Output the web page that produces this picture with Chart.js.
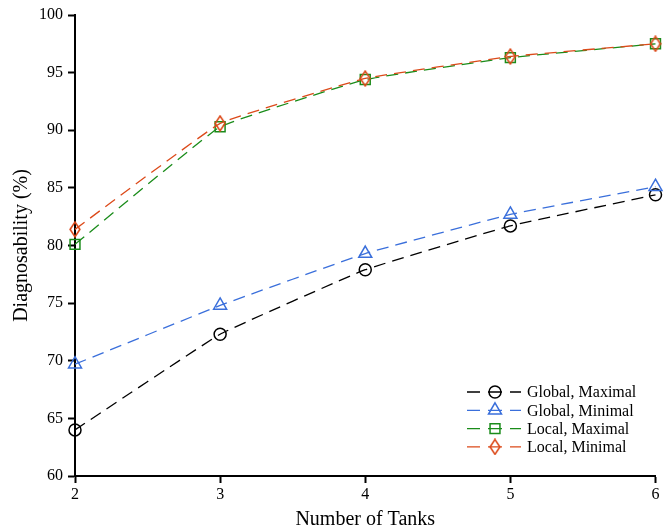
<!DOCTYPE html>
<html>
<head>
<meta charset="utf-8">
<script src="https://cdn.jsdelivr.net/npm/chart.js@4/dist/chart.umd.min.js"></script>
<style>
html,body{margin:0;padding:0;background:#fff;}
#wrap{width:666px;height:532px;}
</style>
</head>
<body>
<div id="wrap"><canvas id="c" width="666" height="532"></canvas></div>
<script>
const tanks = [2, 3, 4, 5, 6];
const globalMaximal = [64.0, 72.3, 77.9, 81.7, 84.4];
const globalMinimal = [69.7, 74.8, 79.3, 82.7, 85.1];
const localMaximal  = [80.1, 90.3, 94.4, 96.3, 97.5];
const localMinimal  = [81.4, 90.6, 94.5, 96.4, 97.5];
const seriesNames = ['Global, Maximal', 'Global, Minimal', 'Local, Maximal', 'Local, Minimal'];
const yTicks = [60, 65, 70, 75, 80, 85, 90, 95, 100];

const FONT = '"Liberation Serif", "Times New Roman", serif';
const colors = ['#000000', '#3a6fdb', '#1a8c1a', '#dc4a1a'];

function makeDiamond(color, w, h, lw) {
  const c = document.createElement('canvas');
  c.width = w; c.height = h;
  const g = c.getContext('2d');
  g.strokeStyle = color; g.lineWidth = lw;
  const p = lw / 2 + 0.3;
  g.beginPath();
  g.moveTo(w / 2, p); g.lineTo(w - p, h / 2); g.lineTo(w / 2, h - p); g.lineTo(p, h / 2); g.closePath();
  g.stroke();
  return c;
}
const diamond = makeDiamond(colors[3], 12, 17, 1.6);

const styles = [
  {pointStyle: 'circle', radius: 6},
  {pointStyle: 'triangle', radius: 7.5},
  {pointStyle: 'rect', radius: 7},
  {pointStyle: diamond, radius: 9}
];
const values = [globalMaximal, globalMinimal, localMaximal, localMinimal];

const datasets = values.map((vals, i) => ({
  label: seriesNames[i],
  data: tanks.map((t, j) => ({x: t, y: vals[j]})),
  borderColor: colors[i],
  backgroundColor: 'rgba(0,0,0,0)',
  borderWidth: 1.3,
  borderDash: [12, 7],
  tension: 0.08,
  pointStyle: styles[i].pointStyle,
  pointRadius: styles[i].radius,
  pointHoverRadius: styles[i].radius,
  pointBorderColor: colors[i],
  pointBackgroundColor: 'rgba(0,0,0,0)',
  pointBorderWidth: 1.5,
  clip: false,
  order: 3 - i
}));

const legendPlugin = {
  id: 'customLegend',
  afterDraw(chart) {
    const ctx = chart.ctx;
    const x0 = 467, y0 = 392, dy = 18.3;
    ctx.save();
    chart.data.datasets.forEach((ds, i) => {
      const y = y0 + i * dy;
      ctx.strokeStyle = ds.borderColor;
      ctx.lineWidth = 1.3;
      ctx.setLineDash([]);
      ctx.beginPath();
      ctx.moveTo(x0, y); ctx.lineTo(x0 + 13, y);
      ctx.moveTo(x0 + 21, y); ctx.lineTo(x0 + 35, y);
      ctx.moveTo(x0 + 43, y); ctx.lineTo(x0 + 54, y);
      ctx.stroke();
      const mx = x0 + 28;
      ctx.fillStyle = 'rgba(0,0,0,0)';
      ctx.strokeStyle = ds.borderColor;
      ctx.lineWidth = ds.pointBorderWidth;
      if (Chart.helpers && Chart.helpers.drawPoint) {
        Chart.helpers.drawPoint(ctx, {
          pointStyle: ds.pointStyle,
          radius: ds.pointRadius,
          borderWidth: ds.pointBorderWidth,
          rotation: 0
        }, mx, y);
      }
      ctx.fillStyle = '#000';
      ctx.font = '16px ' + FONT;
      ctx.textBaseline = 'middle';
      ctx.textAlign = 'left';
      ctx.fillText(ds.label, x0 + 60, y + 1);
    });
    ctx.restore();
  }
};

new Chart(document.getElementById('c'), {
  type: 'line',
  data: {datasets},
  options: {
    responsive: false,
    animation: false,
    events: [],
    layout: {padding: {top: 15, right: 6, left: 0, bottom: 0}},
    plugins: {legend: {display: false}, tooltip: {enabled: false}},
    scales: {
      x: {
        type: 'linear',
        min: tanks[0], max: tanks[tanks.length - 1],
        afterFit(s) { s.height = 56; },
        afterBuildTicks(s) { s.ticks = tanks.map(v => ({value: v})); },
        border: {display: true, color: '#000', width: 2},
        grid: {drawOnChartArea: false, drawTicks: true, tickLength: 7, tickWidth: 2, tickColor: '#000'},
        ticks: {color: '#000', font: {family: FONT, size: 16}, padding: 2, maxRotation: 0},
        title: {display: true, text: 'Number of Tanks', color: '#000', font: {family: FONT, size: 20}, padding: {top: 0, bottom: 0}}
      },
      y: {
        type: 'linear',
        min: 60, max: 100,
        afterFit(s) { s.width = 75; },
        afterBuildTicks(s) { s.ticks = yTicks.map(v => ({value: v})); },
        border: {display: true, color: '#000', width: 2},
        grid: {drawOnChartArea: false, drawTicks: true, tickLength: 7, tickWidth: 2, tickColor: '#000'},
        ticks: {color: '#000', font: {family: FONT, size: 16}, padding: 5},
        title: {display: true, text: 'Diagnosability (%)', color: '#000', font: {family: FONT, size: 20}, padding: {top: 10, bottom: 0}}
      }
    }
  },
  plugins: [legendPlugin]
});
</script>
</body>
</html>
